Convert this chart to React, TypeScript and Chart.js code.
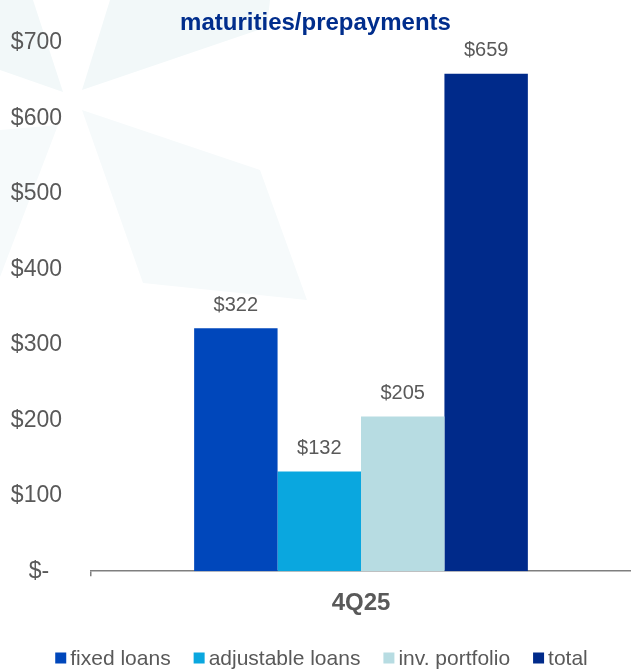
import { useEffect, useRef } from "react";
import { Chart, registerables } from "chart.js";

Chart.register(...registerables);

const TITLE = "maturities/prepayments";
const CATEGORIES = ["4Q25"];
const SERIES_LABELS = ["fixed loans", "adjustable loans", "inv. portfolio", "total"];
const FIXED_LOANS = [322];
const ADJUSTABLE_LOANS = [132];
const INV_PORTFOLIO = [205];
const TOTAL = [659];
const Y_MIN = 0;
const Y_MAX = 700;
const Y_STEP = 100;

const SERIES_COLORS = ["#0047BB", "#0AA7DF", "#B7DCE2", "#002A8A"];
const FONT = "'Liberation Sans', Arial, sans-serif";
const TEXT_GREY = "#595959";
const TITLE_BLUE = "#002D8C";
const AXIS_GREY = "#7F7F7F";

// faint decorative watermark (background only)
const WATERMARK: { pts: [number, number][]; color: string }[] = [
  { pts: [[0, 0], [33, 0], [63, 92], [0, 70]], color: "#F2F8F9" },
  { pts: [[110, 0], [270, 0], [267, 27], [82, 90]], color: "#F2F8F9" },
  { pts: [[82, 110], [260, 170], [307, 300], [143, 283]], color: "#F6FAFB" },
  { pts: [[0, 130], [58, 125], [0, 277]], color: "#F6FAFB" },
];

const watermarkPlugin = {
  id: "watermark",
  beforeDraw(chart: any) {
    const ctx = chart.ctx;
    ctx.save();
    for (const s of WATERMARK) {
      ctx.beginPath();
      s.pts.forEach(([x, y], i) => (i === 0 ? ctx.moveTo(x, y) : ctx.lineTo(x, y)));
      ctx.closePath();
      ctx.fillStyle = s.color;
      ctx.fill();
    }
    ctx.restore();
  },
};

const valueLabelPlugin = {
  id: "valueLabels",
  afterDatasetsDraw(chart: any) {
    const ctx = chart.ctx;
    ctx.save();
    ctx.font = `20px ${FONT}`;
    ctx.fillStyle = TEXT_GREY;
    ctx.textAlign = "center";
    ctx.textBaseline = "middle";
    chart.data.datasets.forEach((ds: any, di: number) => {
      const meta = chart.getDatasetMeta(di);
      meta.data.forEach((el: any, i: number) => {
        ctx.fillText("$" + ds.data[i], el.x, el.y - 23);
      });
    });
    ctx.restore();
  },
};

const legendPlugin = {
  id: "customLegend",
  afterDraw(chart: any) {
    const ctx = chart.ctx;
    ctx.save();
    ctx.font = `21px ${FONT}`;
    ctx.textBaseline = "middle";
    ctx.textAlign = "left";
    const box = 11;
    const gapText = 4;
    const gapItem = 23;
    const items = chart.data.datasets.map((ds: any) => ({
      label: ds.label,
      color: ds.backgroundColor,
      w: box + gapText + ctx.measureText(ds.label).width,
    }));
    const total = items.reduce((a: number, it: any) => a + it.w, 0) + gapItem * (items.length - 1);
    let x = chart.width / 2 + 6 - total / 2;
    const y = 658;
    for (const it of items) {
      ctx.fillStyle = it.color;
      ctx.fillRect(x, y - box / 2, box, box);
      ctx.fillStyle = TEXT_GREY;
      ctx.fillText(it.label, x + box + gapText, y + 1);
      x += it.w + gapItem;
    }
    ctx.restore();
  },
};

export default function App() {
  const ref = useRef<HTMLCanvasElement | null>(null);

  useEffect(() => {
    document.body.style.margin = "0";
    const seriesData = [FIXED_LOANS, ADJUSTABLE_LOANS, INV_PORTFOLIO, TOTAL];
    const chart = new Chart(ref.current as HTMLCanvasElement, {
      type: "bar",
      data: {
        labels: CATEGORIES,
        datasets: SERIES_LABELS.map((label, i) => ({
          label,
          data: seriesData[i],
          backgroundColor: SERIES_COLORS[i],
          borderWidth: 0,
          barPercentage: 1,
          categoryPercentage: 0.618,
        })),
      },
      options: {
        responsive: false,
        animation: false,
        devicePixelRatio: 1,
        layout: { padding: { top: 0, left: 0, right: 0, bottom: 40 } },
        plugins: {
          legend: { display: false },
          tooltip: { enabled: false },
          title: {
            display: true,
            text: TITLE,
            color: TITLE_BLUE,
            font: { family: FONT, size: 24, weight: "bold" },
            padding: { top: 5, bottom: 5 },
          },
        },
        scales: {
          x: {
            grid: {
              display: true,
              drawOnChartArea: false,
              drawTicks: true,
              tickLength: 5,
              color: (c: any) => (c.index === 0 ? AXIS_GREY : "rgba(0,0,0,0)"),
              lineWidth: 1.5,
            },
            border: { display: true, color: AXIS_GREY, width: 1.5 },
            ticks: {
              color: TEXT_GREY,
              font: { family: FONT, size: 24, weight: "bold" },
              padding: 13,
            },
          },
          y: {
            min: Y_MIN,
            max: Y_MAX,
            grid: { display: false, drawTicks: false },
            border: { display: false },
            ticks: {
              stepSize: Y_STEP,
              color: TEXT_GREY,
              font: { family: FONT, size: 23 },
              padding: 29,
              callback: (v: any) => (Number(v) === 0 ? "$-  " : "$" + v),
            },
            afterFit: (scale: any) => {
              scale.width = 91;
            },
          },
        },
      },
      plugins: [watermarkPlugin, valueLabelPlugin, legendPlugin],
    } as any);
    return () => chart.destroy();
  }, []);

  return (
    <div style={{ width: 631, height: 671, position: "relative", background: "#FFFFFF" }}>
      <canvas ref={ref} width={631} height={671} style={{ display: "block" }} />
    </div>
  );
}
